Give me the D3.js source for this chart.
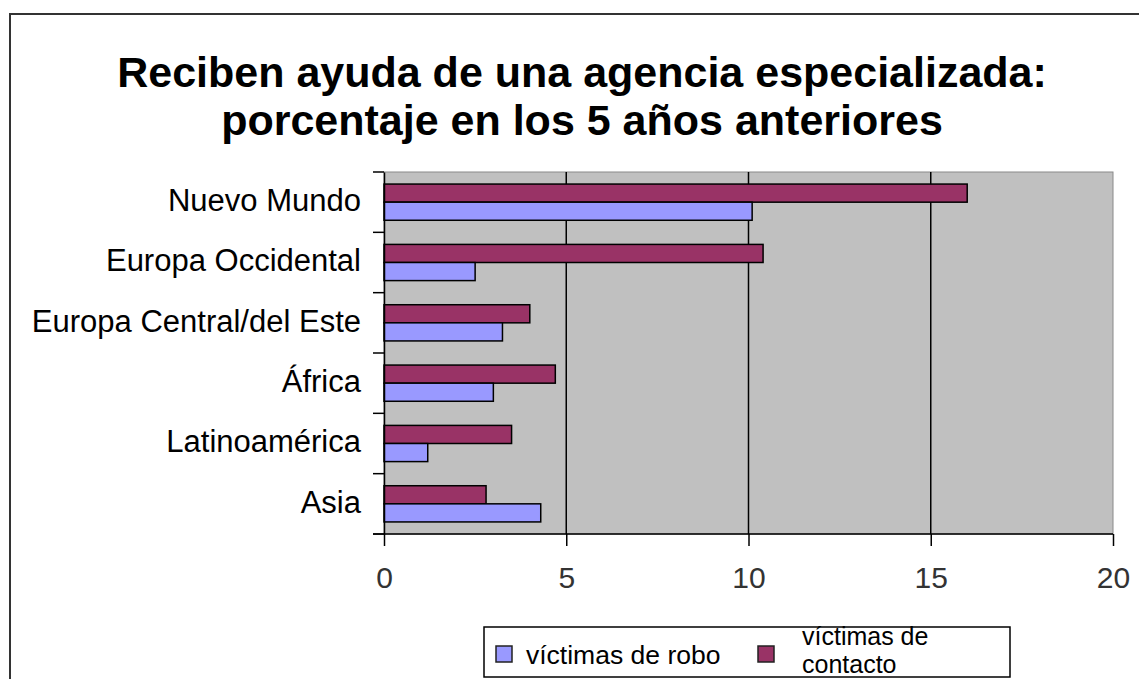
<!DOCTYPE html>
<html><head><meta charset="utf-8">
<script src="https://cdn.jsdelivr.net/npm/d3@7"></script>
<style>body{margin:0;background:#fff}svg{display:block}</style>
</head><body>
<script>
const categories = ["Nuevo Mundo","Europa Occidental","Europa Central/del Este","África","Latinoamérica","Asia"];
const seriesNames = ["víctimas de contacto","víctimas de robo"];
const contacto = [16.0, 10.4, 4.0, 4.7, 3.5, 2.8];
const robo = [10.1, 2.5, 3.25, 3.0, 1.2, 4.3];
const xTicks = [0,5,10,15,20];
const titleLines = ["Reciben ayuda de una agencia especializada:","porcentaje en los 5 años anteriores"];
const colors = {"víctimas de robo":"#9999ff","víctimas de contacto":"#993366"};

const W=1139,H=679;
const FONT="Liberation Sans, Arial, sans-serif";
const svg=d3.select("body").append("svg").attr("width",W).attr("height",H);
svg.append("rect").attr("x",0).attr("y",0).attr("width",W).attr("height",H).attr("fill","#fff");
// outer frame
svg.append("path").attr("d",`M10,${H+5} V14 H${W+5}`).attr("fill","none").attr("stroke","#333").attr("stroke-width",2);

const m={l:384,r:1113,t:172,b:534};
const x=d3.scaleLinear().domain([0,20]).range([m.l,m.r]);
const y=d3.scaleBand().domain(categories).range([m.t,m.b]);
const inner=d3.scaleBand().domain(seriesNames).range([0,y.bandwidth()]).paddingInner(0).paddingOuter(0.667);

svg.append("rect").attr("x",m.l).attr("y",m.t).attr("width",m.r-m.l).attr("height",m.b-m.t).attr("fill","#c0c0c0").attr("stroke","#8a8a8a").attr("stroke-width",1);

// gridlines
svg.selectAll(".grid").data(xTicks.slice(1,-1)).join("line")
  .attr("x1",d=>x(d)).attr("x2",d=>x(d)).attr("y1",m.t).attr("y2",m.b)
  .attr("stroke","#000").attr("stroke-width",1.5);

// title
svg.append("g").selectAll("text").data(titleLines).join("text")
  .attr("x",582).attr("y",(d,i)=>87+i*48).attr("text-anchor","middle")
  .attr("font-family",FONT).attr("font-weight","bold").attr("font-size",43)
  .text(d=>d);

// bars
const data=categories.map((c,i)=>({c,vals:[{s:"víctimas de contacto",v:contacto[i]},{s:"víctimas de robo",v:robo[i]}]}));
const g=svg.append("g");
g.selectAll("g").data(data).join("g").attr("transform",d=>`translate(0,${y(d.c)})`)
 .selectAll("rect").data(d=>d.vals).join("rect")
 .attr("x",x(0)).attr("y",d=>inner(d.s)).attr("height",inner.bandwidth())
 .attr("width",d=>x(d.v)-x(0)).attr("fill",d=>colors[d.s]).attr("stroke","#000").attr("stroke-width",1.5);

// y axis
const ya=svg.append("g").attr("transform",`translate(${m.l},0)`).call(d3.axisLeft(y).tickSize(0).tickPadding(23));
ya.select(".domain").attr("stroke","#000").attr("stroke-width",1.5);
ya.selectAll("text").attr("font-family",FONT).attr("font-size",31).attr("fill","#000").attr("dy","0.28em");
// category boundary ticks
const bounds=categories.map(c=>y(c)).concat([m.b]);
svg.selectAll(".ct").data(bounds).join("line").attr("x1",m.l-11).attr("x2",m.l).attr("y1",d=>d).attr("y2",d=>d).attr("stroke","#000").attr("stroke-width",1.5);

// x axis
const xa=svg.append("g").attr("transform",`translate(0,${m.b})`).call(d3.axisBottom(x).tickValues(xTicks).tickSize(12).tickPadding(21));
xa.select(".domain").attr("stroke","#000").attr("stroke-width",1.5).attr("d",`M${m.l-11},0H${m.r}`);
xa.selectAll("line").attr("stroke","#000").attr("stroke-width",1.5);
xa.selectAll("text").attr("font-family",FONT).attr("font-size",30).attr("fill","#333");

// legend
const lg=svg.append("g");
lg.append("rect").attr("x",484).attr("y",627).attr("width",526).attr("height",50).attr("fill","#fff").attr("stroke","#000").attr("stroke-width",1.5);
const legItems=[{s:"víctimas de robo",sx:496,lines:["víctimas de robo"],tx:526,ty:[664],fs:26.5},{s:"víctimas de contacto",sx:758,lines:["víctimas de","contacto"],tx:802,ty:[645,673],fs:25}];
legItems.forEach(it=>{
  lg.append("rect").attr("x",it.sx).attr("y",646).attr("width",16).attr("height",16).attr("fill",colors[it.s]).attr("stroke","#222").attr("stroke-width",1.5);
  it.lines.forEach((t,i)=>lg.append("text").attr("x",it.tx).attr("y",it.ty[i]).attr("font-family",FONT).attr("font-size",it.fs).text(t));
});
</script>
</body></html>
